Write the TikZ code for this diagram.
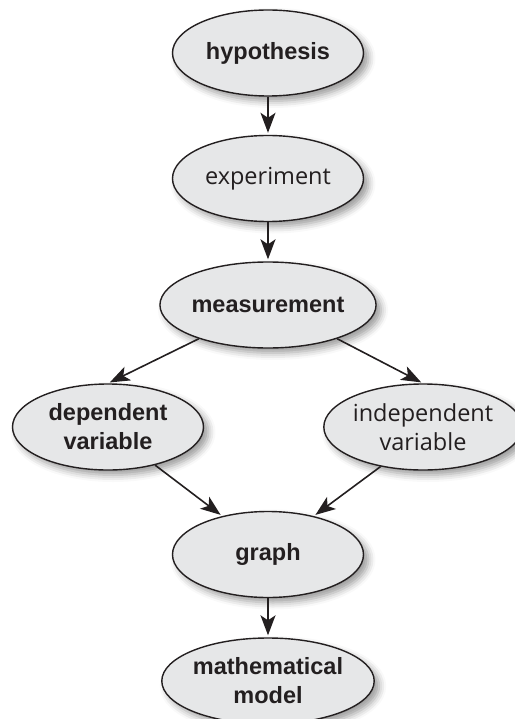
\documentclass[tikz,border=0pt]{standalone}
\usepackage{fontspec}
\setmainfont{Liberation Sans}
\newfontfamily\regf{Open Sans}
\usetikzlibrary{shapes.geometric,arrows.meta,shadows.blur}
\definecolor{ellfill}{HTML}{E6E7E8}
\definecolor{ink}{HTML}{231F20}
\tikzset{
  bubble/.style={ellipse, draw=ink, line width=1.4pt, fill=ellfill,
    minimum width=191pt, minimum height=86pt, inner sep=0pt, align=center,
    text=ink, font=\fontsize{23.5}{29}\selectfont,
    blur shadow={shadow xshift=5pt, shadow yshift=-5pt, shadow blur radius=7pt, shadow opacity=40}},
  boldtxt/.style={font=\fontsize{23.5}{29}\selectfont\bfseries},
  regtxt/.style={font=\fontsize{23.5}{29}\selectfont\regf},
  conn/.style={draw=ink, line width=1.6pt, shorten >=2pt,
    -{Stealth[length=20pt, width=15pt, inset=5pt]}}
}
\begin{document}
\begin{tikzpicture}[x=1pt,y=-1pt]
\useasboundingbox (0,0) rectangle (514,719);
\node[bubble, boldtxt] (hyp) at (268,53) {hypothesis};
\node[bubble, regtxt] (exp) at (268,178.5) {experiment};
\node[bubble, boldtxt] (meas) at (268,305) {measurement};
\node[bubble, boldtxt] (dep) at (108,427) {dependent\\variable};
\node[bubble, regtxt, minimum width=180pt] (ind) at (423,427) {independent\\variable};
\node[bubble, boldtxt] (graph) at (268,554.5) {graph};
\node[bubble, boldtxt] (math) at (268,681) {mathematical\\model};
\draw[conn] (hyp) -- (exp);
\draw[conn] (exp) -- (meas);
\draw[conn] (meas.206) -- (dep.north);
\draw[conn] (meas.334) -- (ind.north);
\draw[conn] (dep.-39) -- (graph.140);
\draw[conn] (ind.223) -- (graph.40);
\draw[conn] (graph) -- (math);
\end{tikzpicture}
\end{document}
